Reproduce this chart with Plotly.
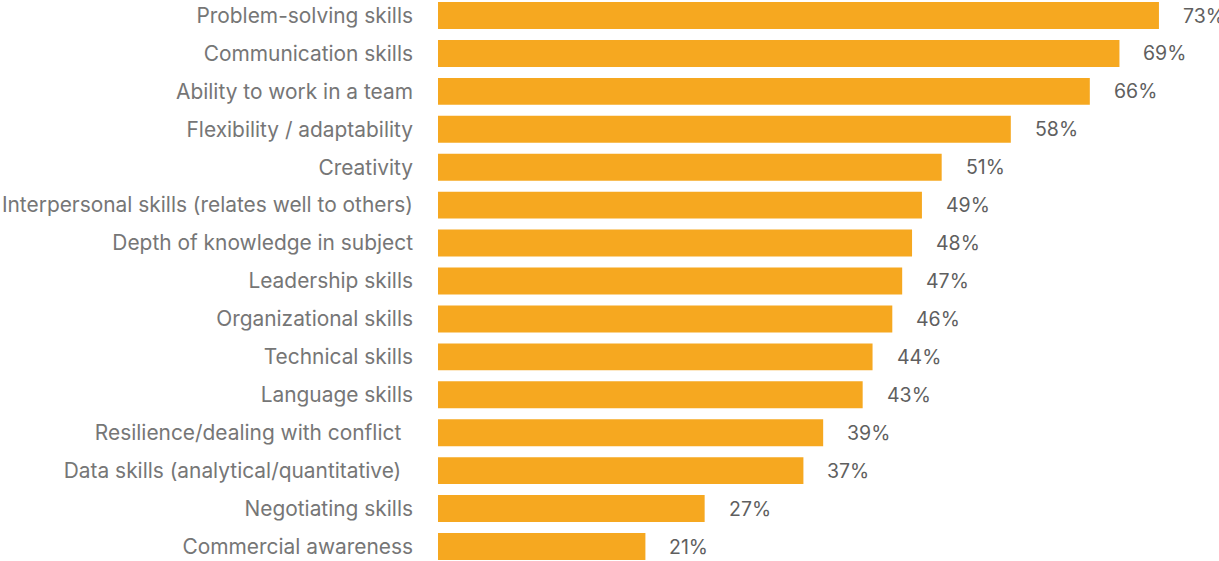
import plotly.graph_objects as go

# Share of respondents naming each skill (%), top to bottom
skills = [
    "Problem-solving skills",
    "Communication skills",
    "Ability to work in a team",
    "Flexibility / adaptability",
    "Creativity",
    "Interpersonal skills (relates well to others)",
    "Depth of knowledge in subject",
    "Leadership skills",
    "Organizational skills",
    "Technical skills",
    "Language skills",
    "Resilience/dealing with conflict\u00a0\u00a0",
    "Data skills (analytical/quantitative)\u00a0\u00a0",
    "Negotiating skills",
    "Commercial awareness",
]
shares = [73, 69, 66, 58, 51, 49, 48, 47, 46, 44, 43, 39, 37, 27, 21]
value_labels = [f"{v}%" for v in shares]

BAR_COLOR = "#F6A820"
FONT = "Inter, 'Open Sans', sans-serif"

fig = go.Figure(
    go.Bar(
        x=shares,
        y=skills,
        orientation="h",
        marker=dict(color=BAR_COLOR, line=dict(width=0)),
        width=0.71,
        hoverinfo="skip",
    )
)

for s, v, t in zip(skills, shares, value_labels):
    fig.add_annotation(
        x=v, y=s, text=t, showarrow=False,
        xanchor="left", yanchor="middle", xshift=22,
        font=dict(family=FONT, size=19.5, color="#5f5f5f"),
    )

fig.update_layout(
    width=1219,
    height=561,
    margin=dict(l=438, r=0, t=0, b=0),
    paper_bgcolor="white",
    plot_bgcolor="white",
    showlegend=False,
    bargap=0.29,
)
fig.update_xaxes(
    range=[0, 79.08], visible=False, fixedrange=True,
)
fig.update_yaxes(
    type="category",
    categoryorder="array",
    categoryarray=skills,
    range=[14.382, -0.409],
    showgrid=False, zeroline=False, showline=False,
    ticks="", ticklabelstandoff=24,
    tickfont=dict(family=FONT, size=20.9, color="#767676"),
)

fig.write_html("out.html")
